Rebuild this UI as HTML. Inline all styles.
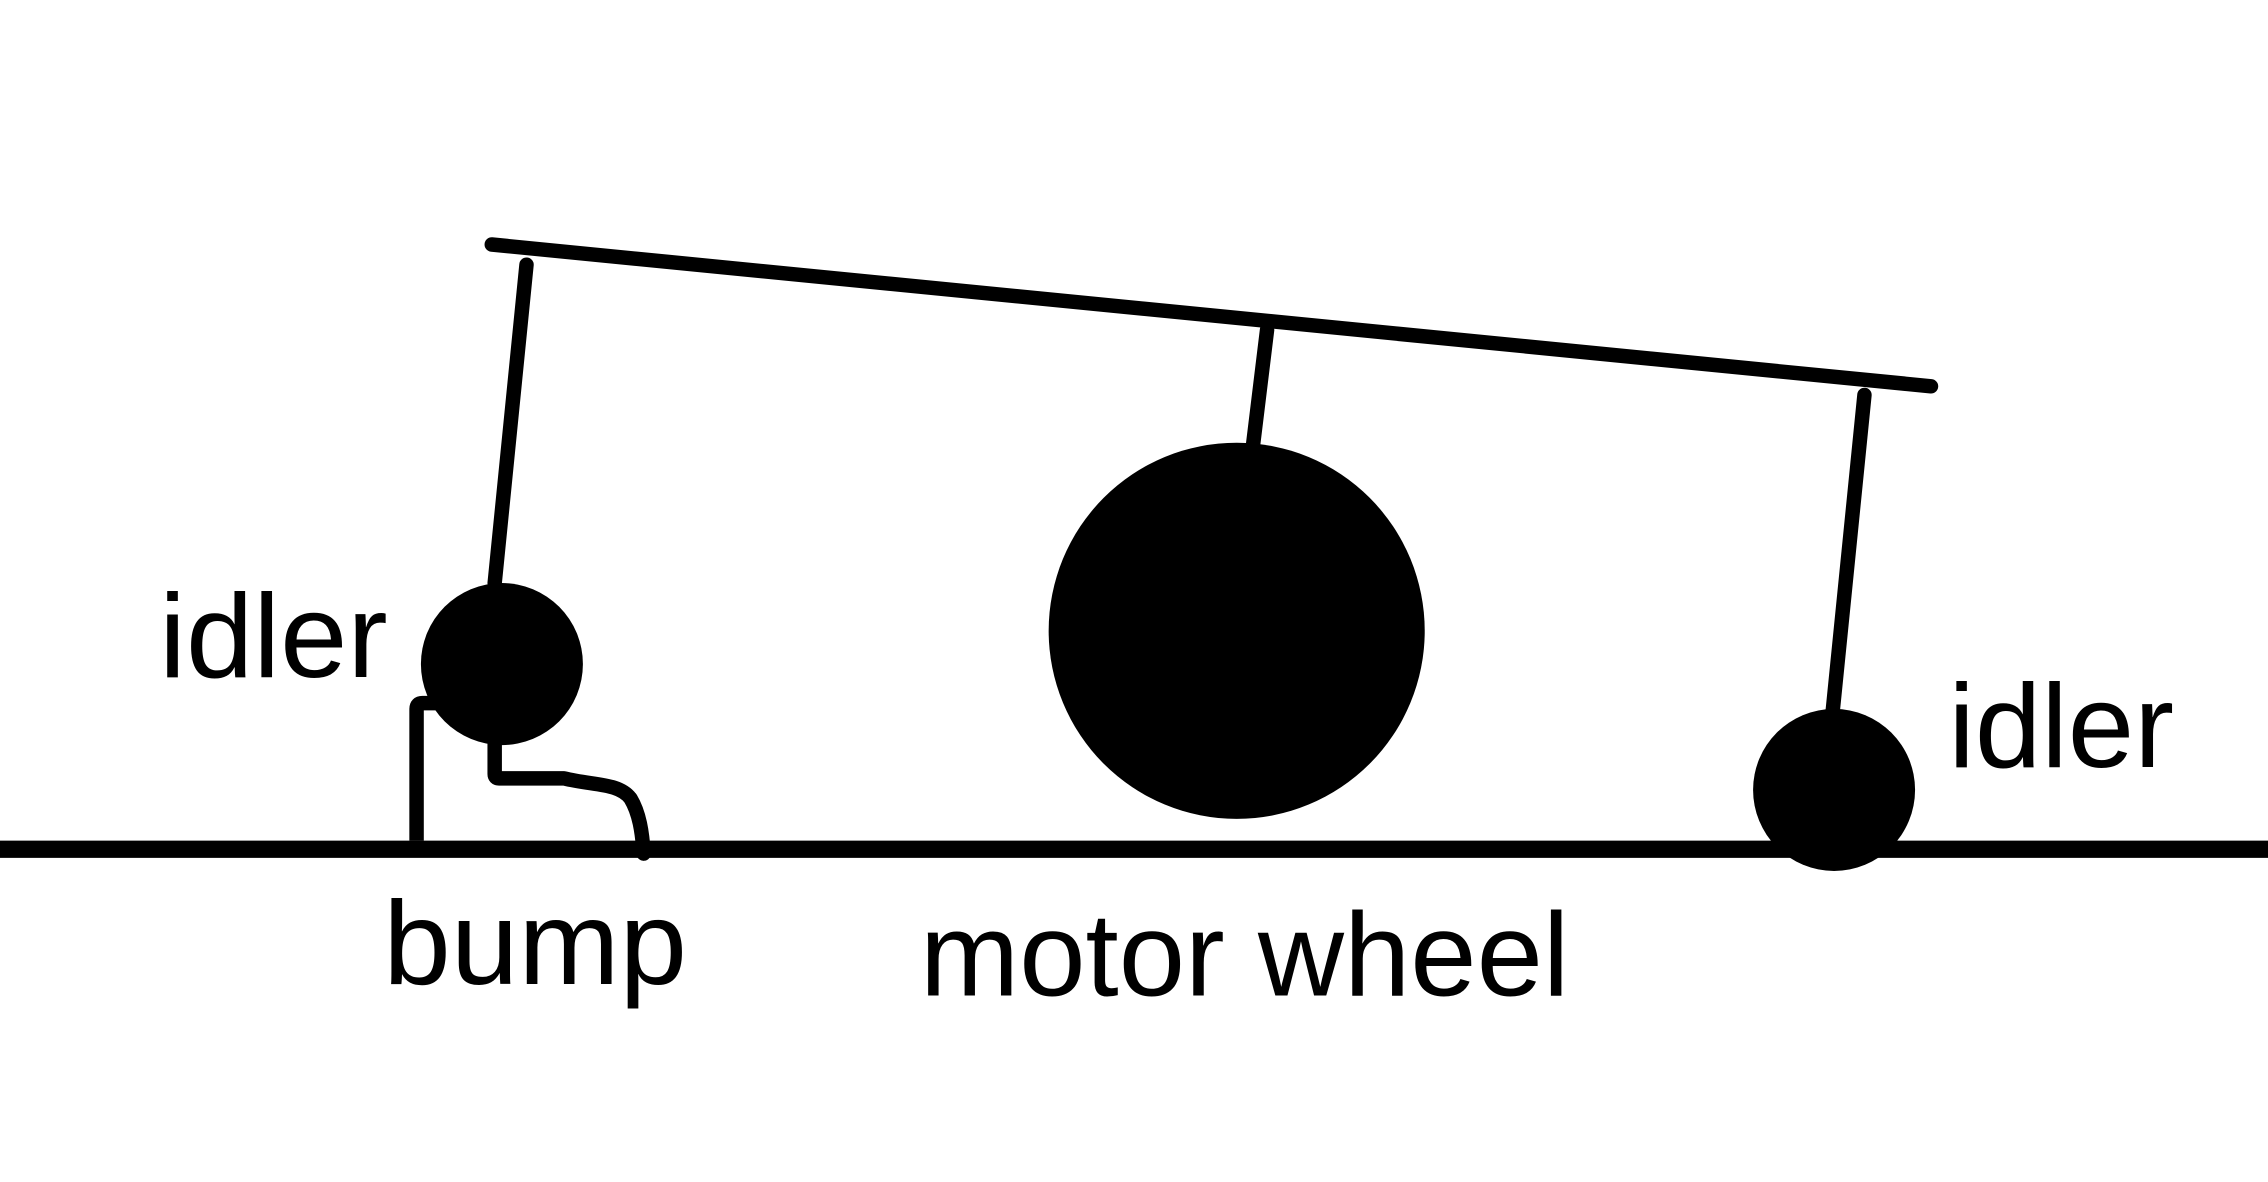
<!DOCTYPE html>
<html><head><meta charset="utf-8"><style>html,body{margin:0;padding:0;background:#fff}svg{display:block}</style></head>
<body>
<svg width="2268" height="1182" viewBox="0 0 1568 817" preserveAspectRatio="none" xmlns="http://www.w3.org/2000/svg">
<rect width="1568" height="817" fill="#fff"/>
<g stroke="#000" stroke-width="10" stroke-linecap="round" fill="none">
<line x1="340" y1="169" x2="1335" y2="267"/>
<line x1="364" y1="183" x2="342" y2="403"/>
<line x1="876" y1="228" x2="866" y2="310"/>
<line x1="1289" y1="273" x2="1267" y2="492"/>
<path d="M288 581 L288 490 Q288 486 292 486 L302 486" stroke-linecap="butt"/>
<path d="M342 505 L342 535 Q342 538 345 538 L390 538 C410 543 428 541 436 552 C442 562 444 575 445 590" stroke-linejoin="round"/>
</g>
<line x1="0" y1="587" x2="1568" y2="587" stroke="#000" stroke-width="12"/>
<circle cx="347" cy="459" r="56" fill="#000"/>
<circle cx="855" cy="436" r="130" fill="#000"/>
<circle cx="1268" cy="546" r="56" fill="#000"/>
<g font-family="Liberation Sans, sans-serif" font-size="82" fill="#000">
<text x="110" y="468" textLength="158" lengthAdjust="spacingAndGlyphs">idler</text>
<text x="1347" y="530" textLength="156" lengthAdjust="spacingAndGlyphs">idler</text>
<text x="265" y="680" textLength="210" lengthAdjust="spacingAndGlyphs">bump</text>
<text x="636" y="688" textLength="449" lengthAdjust="spacingAndGlyphs">motor wheel</text>
</g>
</svg>
</body></html>
